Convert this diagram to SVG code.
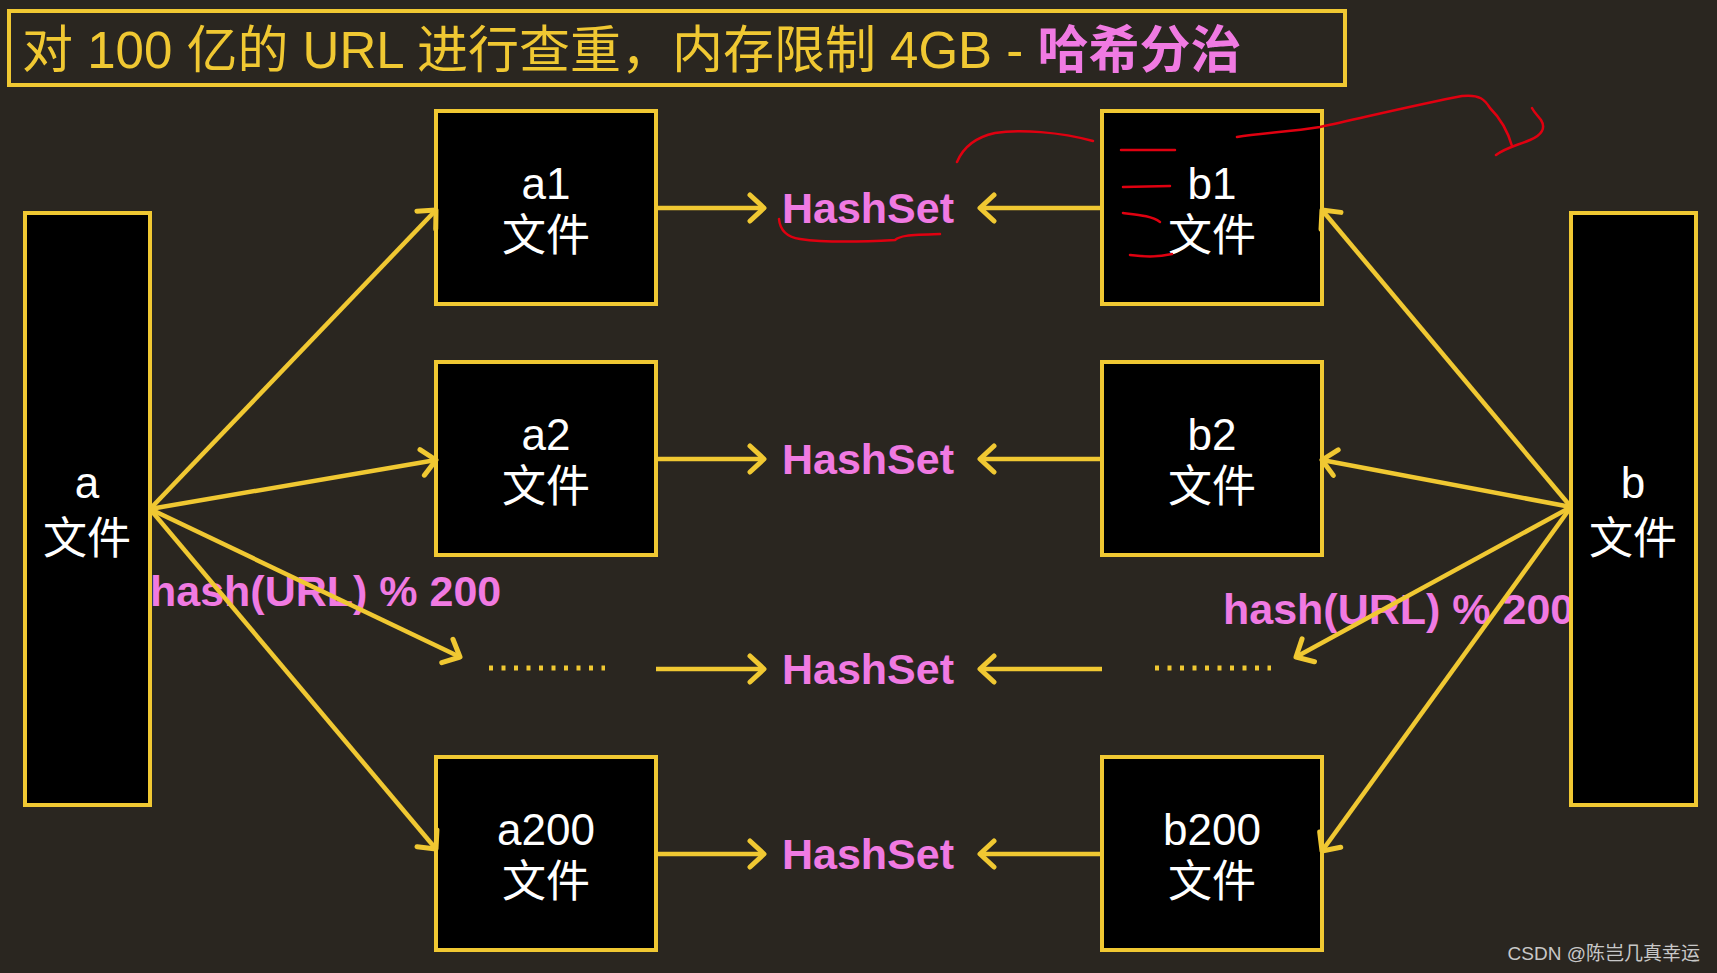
<svg xmlns="http://www.w3.org/2000/svg" width="1717" height="973" viewBox="0 0 1717 973">
<style>
.bg{fill:#2a2620}
.box{fill:#000;stroke:#f0c832;stroke-width:4}
.nt{fill:#fff;font-family:"Liberation Sans","Noto Sans CJK SC",sans-serif;font-size:44px;text-anchor:middle}
.hs{fill:#f07ae2;font-family:"Liberation Sans","Noto Sans CJK SC",sans-serif;font-size:43px;font-weight:bold;text-anchor:middle}
.lbl{fill:#f07ae2;font-family:"Liberation Sans","Noto Sans CJK SC",sans-serif;font-size:43px;font-weight:bold}
.ln{stroke:#f0c832;stroke-width:4.5;fill:none;marker-end:url(#ah)}
.dots{stroke:#f0c832;stroke-width:5;stroke-dasharray:4 8.5;fill:none}
.red{stroke:#e00010;stroke-width:2.5;fill:none;stroke-linecap:round;stroke-linejoin:round}
</style>
<defs>
<marker id="ah" markerUnits="userSpaceOnUse" markerWidth="32" markerHeight="32" refX="18" refY="16" orient="auto">
<path d="M4,3 L18,16 L4,29" fill="none" stroke="#f0c832" stroke-width="5" stroke-linecap="round" stroke-linejoin="round"/>
</marker>
</defs>
<rect class="bg" x="0" y="0" width="1717" height="973"/>
<g id="title">
<rect x="9" y="11" width="1336" height="74" fill="none" stroke="#f0c832" stroke-width="4"/>
<text x="22" y="68" font-family="'Liberation Sans','Noto Sans CJK SC',sans-serif" font-size="51" fill="#f0c832">对 100 亿的 URL 进行查重，内存限制 4GB - <tspan fill="#f07ae2" font-weight="bold">哈希分治</tspan></text>
</g>
<text class="lbl" x="150" y="606">hash(URL) % 200</text>
<text class="lbl" x="1223" y="624">hash(URL) % 200</text>
<g id="a"><rect class="box" x="25" y="213" width="125" height="592"/><text class="nt" x="87" y="498">a</text><text class="nt" x="87" y="554">文件</text></g>
<g id="b"><rect class="box" x="1571" y="213" width="125" height="592"/><text class="nt" x="1633" y="498">b</text><text class="nt" x="1633" y="554">文件</text></g>
<g id="a1"><rect class="box" x="436" y="111" width="220" height="193"/><text class="nt" x="546" y="199">a1</text><text class="nt" x="546" y="251">文件</text></g>
<g id="a2"><rect class="box" x="436" y="362" width="220" height="193"/><text class="nt" x="546" y="450">a2</text><text class="nt" x="546" y="502">文件</text></g>
<g id="a200"><rect class="box" x="436" y="757" width="220" height="193"/><text class="nt" x="546" y="845">a200</text><text class="nt" x="546" y="897">文件</text></g>
<g id="b1"><rect class="box" x="1102" y="111" width="220" height="193"/><text class="nt" x="1212" y="199">b1</text><text class="nt" x="1212" y="251">文件</text></g>
<g id="b2"><rect class="box" x="1102" y="362" width="220" height="193"/><text class="nt" x="1212" y="450">b2</text><text class="nt" x="1212" y="502">文件</text></g>
<g id="b200"><rect class="box" x="1102" y="757" width="220" height="193"/><text class="nt" x="1212" y="845">b200</text><text class="nt" x="1212" y="897">文件</text></g>
<g id="dotsA"><line class="dots" x1="489" y1="668" x2="605" y2="668"/></g>
<g id="dotsB"><line class="dots" x1="1155" y1="668" x2="1271" y2="668"/></g>
<g id="hs1"><text class="hs" x="868" y="223">HashSet</text></g>
<g id="hs2"><text class="hs" x="868" y="474">HashSet</text></g>
<g id="hs3"><text class="hs" x="868" y="684">HashSet</text></g>
<g id="hs4"><text class="hs" x="868" y="869">HashSet</text></g>
<g id="connectors">
<line class="ln" x1="150" y1="509" x2="436" y2="210"/>
<line class="ln" x1="150" y1="509" x2="436" y2="460"/>
<line class="ln" x1="150" y1="509" x2="460" y2="657"/>
<line class="ln" x1="150" y1="509" x2="436" y2="849"/>
<line class="ln" x1="1571" y1="507" x2="1322" y2="210"/>
<line class="ln" x1="1571" y1="507" x2="1322" y2="460"/>
<line class="ln" x1="1571" y1="507" x2="1296" y2="657"/>
<line class="ln" x1="1571" y1="507" x2="1322" y2="851"/>
<line class="ln" x1="658" y1="208" x2="764" y2="208"/>
<line class="ln" x1="1100" y1="208" x2="980" y2="208"/>
<line class="ln" x1="658" y1="459" x2="764" y2="459"/>
<line class="ln" x1="1100" y1="459" x2="980" y2="459"/>
<line class="ln" x1="656" y1="669" x2="764" y2="669"/>
<line class="ln" x1="1102" y1="669" x2="980" y2="669"/>
<line class="ln" x1="658" y1="854" x2="764" y2="854"/>
<line class="ln" x1="1100" y1="854" x2="980" y2="854"/>
</g>
<g id="annotations">
<path class="red" d="M779,219 C780,230 786,237 800,239 C820,242 860,242 895,240 C900,236 905,235 940,234"/>
<path class="red" d="M957,162 C962,150 972,138 995,133 C1020,129 1060,132 1093,141"/>
<path class="red" d="M1237,137 C1260,133 1290,132 1320,127 C1370,116 1420,104 1462,96 C1480,94 1485,100 1490,108 C1500,118 1508,132 1512,146"/>
<path class="red" d="M1496,155 C1505,148 1515,146 1530,140 C1542,135 1546,128 1541,120 C1538,116 1534,112 1532,108"/>
<path class="red" d="M1121,150 L1175,150"/>
<path class="red" d="M1123,187 L1170,186"/>
<path class="red" d="M1123,213 C1140,215 1152,216 1160,222"/>
<path class="red" d="M1130,255 C1145,257 1160,257 1172,254"/>
</g>
<text x="1700" y="960" text-anchor="end" font-family="'Liberation Sans','Noto Sans CJK SC',sans-serif" font-size="19" fill="#c8c8c8">CSDN @陈岂几真幸运</text>
</svg>
